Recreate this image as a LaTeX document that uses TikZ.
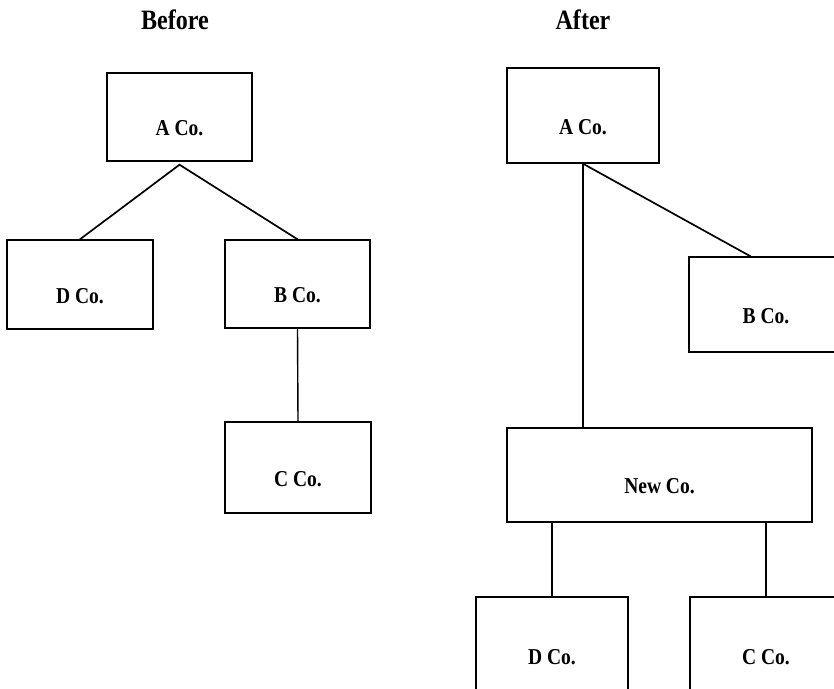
\documentclass[tikz,border=0pt]{standalone}
\usepackage{fontspec}
\setmainfont{Liberation Serif}[FakeStretch=0.86]
\usetikzlibrary{calc, positioning}

\begin{document}
\begin{tikzpicture}[
    x=1pt, y=-1pt,
    firma/.style={draw, line width=1.4pt, inner sep=0pt, font=\fontsize{22.7}{26}\selectfont\bfseries,
      text height=40pt, text depth=3pt},
    titel/.style={font=\fontsize{28}{32}\selectfont\bfseries},
    linie/.style={line width=1.4pt},
  ]

  \useasboundingbox (0,0) rectangle (834,688);
  \clip (0,0) rectangle (834,688);

  % Before
  \node[titel] (before) at (175,20) {Before};

  \node[firma, minimum width=145pt, minimum height=88pt] (a1) at (179.5,117) {A Co.};
  \node[firma, minimum width=146pt, minimum height=89pt] (d1) at (80,284.5) {D Co.};
  \node[firma, minimum width=145pt, minimum height=88pt] (b1) at (297.5,284) {B Co.};
  \node[firma, minimum width=146pt, minimum height=91pt] (c1) at (298,467.5) {C Co.};

  \coordinate (a1fuss) at ($(a1.south)+(0,3)$);
  \draw[linie, line width=1.7pt] (d1.north) -- (a1fuss) -- (b1.north);
  \draw[linie] (b1.south) -- (c1.north);

  % After
  \node[titel] (after) at (583,20) {After};

  \node[firma, minimum width=152pt, minimum height=95pt] (a2) at (583,115.5) {A Co.};
  \node[firma, minimum width=154pt, minimum height=95pt] (b2) at (766,304.5) {B Co.};
  \node[firma, minimum width=305pt, minimum height=94pt] (new) at (659.5,475) {New Co.};
  \node[firma, minimum width=152pt, minimum height=98pt] (d2) at (552,646) {D Co.};
  \node[firma, minimum width=152pt, minimum height=98pt] (c2) at (766,646) {C Co.};

  \draw[linie] (a2.south) -- (a2.south |- new.north);
  \draw[linie, line width=1.7pt] (a2.south) -- ($(b2.north west)!0.4!(b2.north east)$);
  \draw[linie] (new.south -| d2.north) -- (d2.north);
  \draw[linie] (new.south -| c2.north) -- (c2.north);
\end{tikzpicture}
\end{document}
